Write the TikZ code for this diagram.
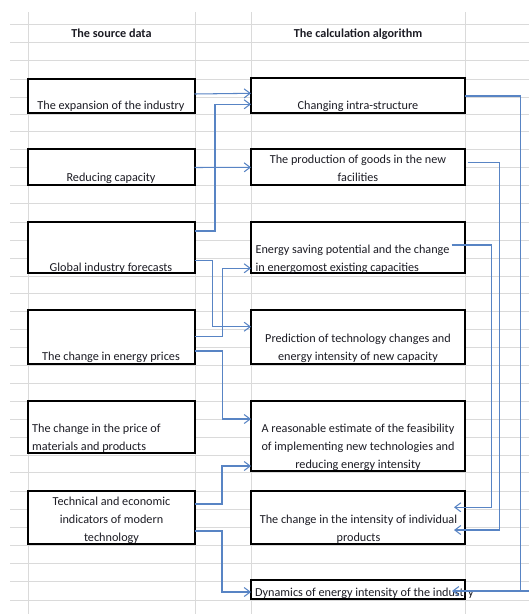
\documentclass[tikz,border=0pt]{standalone}
\usepackage{fontspec}
\setmainfont{Carlito}
\usetikzlibrary{arrows.meta,calc}
\definecolor{gridgray}{RGB}{218,218,218}
\definecolor{connblue}{RGB}{88,132,196}
\definecolor{inkc}{RGB}{28,28,36}
\tikzset{
  gridline/.style={draw=gridgray, line width=0.9pt},
  box/.style={draw=black, line width=2pt, fill=white, inner sep=0pt, outer sep=0pt, anchor=north west},
  lbl/.style={font=\fontsize{12.2}{17.8}\selectfont, text=inkc, inner sep=0pt, anchor=base},
  head/.style={lbl, font=\fontsize{12.2}{17.8}\selectfont\bfseries},
  connline/.style={draw=connblue, line width=1.05pt},
  conn/.style={connline, -{Straight Barb[length=6pt,width=9pt]}},
}
\begin{document}
\begin{tikzpicture}[x=1pt,y=-1pt]
  \useasboundingbox (0,0) rectangle (529,614);
  \fill[white] (0,0) rectangle (529,614);

  % spreadsheet grid
  \foreach \y in {24,42,60,79,97,114,131,149,167,185,203,222,240,258,276,293,311,329,347,365,383,401,419,437,455,472,491,509,527,545,563,581,600}
    \draw[gridline] (10,\y) -- (529,\y);
  \foreach \x in {28,195,251,465}
    \draw[gridline] (\x,12) -- (\x,614);

  % source data column
  \node[box, minimum width=167pt, minimum height=34pt]   (L1) at (27.5,79)  {};
  \node[box, minimum width=167pt, minimum height=35.5pt] (L2) at (27.5,149) {};
  \node[box, minimum width=167pt, minimum height=51pt]   (L3) at (27.5,222) {};
  \node[box, minimum width=167pt, minimum height=54pt]   (L4) at (27.5,310) {};
  \node[box, minimum width=167pt, minimum height=52pt]   (L5) at (27.5,401) {};
  \node[box, minimum width=167pt, minimum height=53pt]   (L6) at (27.5,491) {};

  % calculation algorithm column
  \node[box, minimum width=214pt, minimum height=34.5pt] (M1) at (251,78)  {};
  \node[box, minimum width=214pt, minimum height=35.5pt] (M2) at (251,149) {};
  \node[box, minimum width=214pt, minimum height=51pt]   (M3) at (251,222) {};
  \node[box, minimum width=214pt, minimum height=54pt]   (M4) at (251,310) {};
  \node[box, minimum width=214pt, minimum height=69.5pt] (M5) at (251,401) {};
  \node[box, minimum width=214pt, minimum height=53pt]   (M6) at (251,491) {};
  \node[box, minimum width=214pt, minimum height=19pt]   (M7) at (251,580) {};

  % headings
  \node[head] (h1) at (111.5,37.5) {The source data};
  \node[head] (h2) at (358,37.5) {The calculation algorithm};

  % box texts (multi-line texts are placed by the baseline of their last line)
  \node[lbl] (tL1) at (111,109.5) {The expansion of the industry};
  \node[lbl] (tL2) at (111,181) {Reducing capacity};
  \node[lbl] (tL3) at (111,271.3) {Global industry forecasts};
  \node[lbl] (tL4) at (111,360.5) {The change in energy prices};
  \node[lbl, align=left, anchor=base west] (tL5) at (32,450.2) {The change in the price of\\materials and products};
  \node[lbl, align=center] (tL6) at (111.5,541.4) {Technical and economic\\indicators of modern\\technology};

  \node[lbl] (tM1) at (358,109.5) {Changing intra-structure};
  \node[lbl, align=center] (tM2) at (358,181.2) {The production of goods in the new\\facilities};
  \node[lbl, align=left, anchor=base west] (tM3) at (255.4,271.6) {Energy saving potential and the change\\in energomost existing capacities};
  \node[lbl, align=center] (tM4) at (358,360.5) {Prediction of technology changes and\\energy intensity of new capacity};
  \node[lbl, align=center] (tM5) at (358,468.2) {A reasonable estimate of the feasibility\\of implementing new technologies and\\reducing energy intensity};
  \node[lbl, align=center] (tM6) at (358.5,541.4) {The change in the intensity of individual\\products};
  \node[lbl, anchor=base west] (tM7) at (255,596.7) {Dynamics of energy intensity of the industry};

  % connectors from the source data
  \draw[conn] ([yshift=-15pt]L1.north east) -- ([yshift=-15.3pt]M1.north west);
  \draw[conn] ([yshift=-9pt]L3.north east) -- ++(20.5,0) |- ([yshift=-26.3pt]M1.north west);
  \draw[conn] ([yshift=-18.5pt]L2.north east) -- ([yshift=-18.3pt]M2.north west);
  \draw[conn] ([yshift=-38.3pt]L3.north east) -- ++(18,0) |- ([yshift=-16.7pt]M4.north west);
  \draw[conn] ([yshift=-26.7pt]L4.north east) -- ++(28,0) |- ([yshift=-46.3pt]M3.north west);
  \draw[conn] ([yshift=-41pt]L4.north east) -- ++(28,0) |- ([yshift=-18pt]M5.north west);
  \draw[conn] ([yshift=-13pt]L6.north east) -- ++(27.5,0) |- ([yshift=-65pt]M5.north west);
  \draw[conn] ([yshift=-40pt]L6.north east) -- ++(27.5,0) |- ([yshift=-12pt]M7.north west);

  % feedback connectors on the right
  \coordinate (m7in) at ([xshift=-13pt,yshift=-11pt]M7.north east);
  \draw[conn] ([yshift=-18pt]M1.north east) -- ++(55.5,0) coordinate (r1) |- (m7in);
  \coordinate (stub) at (529,591);
  \draw[connline] (stub) -- (stub -| r1);
  \draw[conn] ([xshift=2.7pt,yshift=-13.3pt]M2.north east) -- ++(32,0) |- ([xshift=-11pt,yshift=-39pt]M6.north east);
  \draw[conn] ([xshift=-13.3pt,yshift=-23pt]M3.north east) -- ++(39.5,0) |- ([xshift=-11pt,yshift=-16.3pt]M6.north east);
\end{tikzpicture}
\end{document}
